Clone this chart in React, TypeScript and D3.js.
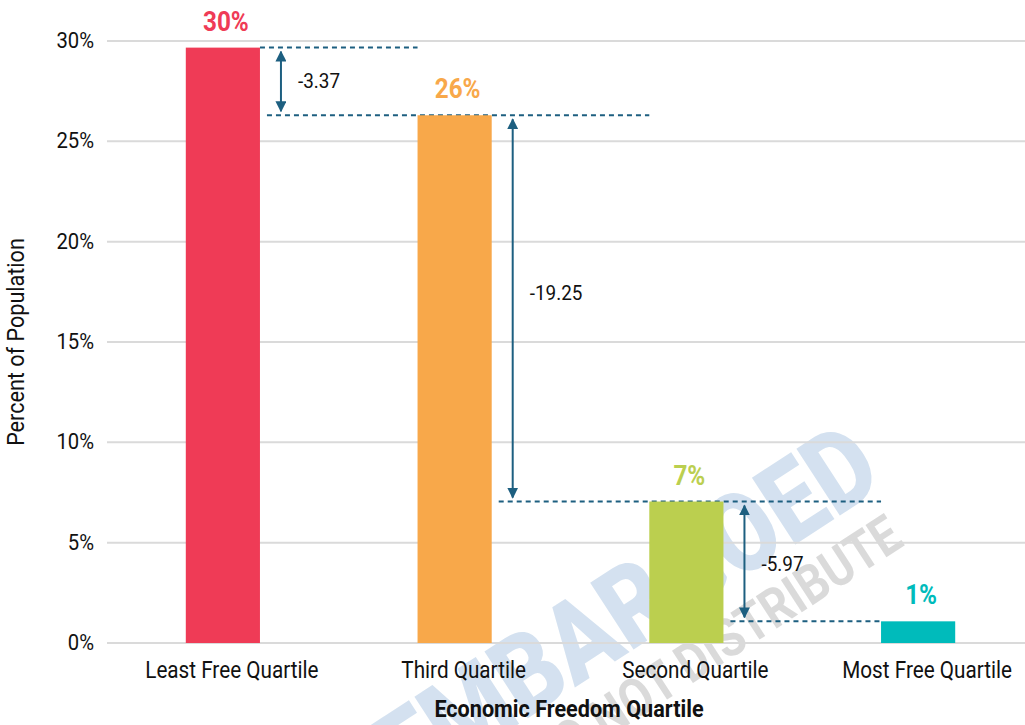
import React from "react";
import * as d3 from "d3";

const categories = ["Least Free Quartile", "Third Quartile", "Second Quartile", "Most Free Quartile"];
const values = [29.67, 26.3, 7.05, 1.08];
const valueLabels = ["30%", "26%", "7%", "1%"];
const diffLabels = ["-3.37", "-19.25", "-5.97"];
const colors = ["#EF3B56", "#F8A84A", "#BBCF4F", "#00BBBB"];
const yTicks = [0, 5, 10, 15, 20, 25, 30];

const W = 1025;
const H = 725;
const FONT = "Roboto, 'Noto Sans', sans-serif";
const SX = 0.9;
const ARROW = "#1D5F80";
const DIFF_DY = [0, -15, 3];

function CText(props: any) {
  const { x, y, children, anchor = "middle", size = 20, weight = 400, fill = "#111", rotate = 0, sx = SX, opacity = 1 } = props;
  return (
    <g transform={`translate(${x},${y}) rotate(${rotate}) scale(${sx},1)`} opacity={opacity}>
      <text textAnchor={anchor} fontSize={size} fontWeight={weight} fill={fill} fontFamily={FONT}>
        {children}
      </text>
    </g>
  );
}

export default function App() {
  const x = d3.scaleBand<string>().domain(categories).range([107, 1034]).paddingInner(0.68).paddingOuter(0.34);
  const y = d3.scaleLinear().domain([0, 30]).range([643, 41]);
  const bw = x.bandwidth();

  const lines = values.map((v, i) => {
    const c = categories[i];
    const x0 = i === 0 ? (x(c) as number) + bw : (x(categories[i - 1]) as number) + bw + 7;
    const x1 = i === values.length - 1 ? (x(c) as number) : (x(categories[i + 1]) as number);
    return { x0, x1, yv: y(v) };
  });

  return (
    <svg width={W} height={H} style={{ position: "absolute", left: 0, top: 0, background: "#fff" }}>
      <defs>
        <marker id="ah" viewBox="0 0 10 10" refX="9" refY="5" markerWidth="5.5" markerHeight="5.5" orient="auto-start-reverse">
          <path d="M0,0 L10,5 L0,10 z" fill={ARROW} />
        </marker>
      </defs>
      <rect width={W} height={H} fill="#fff" />
      {/* watermark */}
      <CText x={648} y={640} rotate={-33} sx={0.85} size={112} weight={900} fill="#C6D8EB" opacity={0.75}>EMBARGOED</CText>
      <CText x={725} y={662} rotate={-33} sx={0.85} size={54} weight={700} fill="#D2D2D2" opacity={0.8}>DO NOT DISTRIBUTE</CText>

      {yTicks.map((t) => (
        <g key={t}>
          <line x1={107} x2={W} y1={y(t)} y2={y(t)} stroke="#DADADA" strokeWidth={2} />
          <CText x={94} y={y(t) + 7} anchor="end" size={22.5}>{`${t}%`}</CText>
        </g>
      ))}

      {lines.map((l, i) => (
        <line key={i} x1={l.x0} x2={l.x1} y1={l.yv} y2={l.yv} stroke={ARROW} strokeWidth={2} strokeDasharray="5,4" />
      ))}

      {values.map((v, i) => (
        <rect key={i} x={x(categories[i])} y={y(v)} width={bw} height={y(0) - y(v)} fill={colors[i]} />
      ))}

      {values.map((v, i) => (
        <CText key={i} x={(x(categories[i]) as number) + bw / 2 + 3} y={y(v) - 17} size={27} weight={700} fill={colors[i]}>
          {valueLabels[i]}
        </CText>
      ))}

      {diffLabels.map((d, i) => {
        const ax = (x(categories[i]) as number) + bw + 21;
        const ya = y(values[i]) + 4;
        const yb = y(values[i + 1]) - 4;
        return (
          <g key={i}>
            <line x1={ax} x2={ax} y1={ya} y2={yb} stroke={ARROW} strokeWidth={2}
              markerStart="url(#ah)" markerEnd="url(#ah)" />
            <CText x={ax + 17} y={(ya + yb) / 2 + 7 + DIFF_DY[i]} anchor="start" size={21}>{d}</CText>
          </g>
        );
      })}

      {categories.map((c) => (
        <CText key={c} x={(x(c) as number) + bw / 2 + 9} y={678} size={23}>{c}</CText>
      ))}

      <CText x={569} y={717} size={24} weight={700}>Economic Freedom Quartile</CText>
      <CText x={24} y={342} size={24} rotate={-90}>Percent of Population</CText>
    </svg>
  );
}
